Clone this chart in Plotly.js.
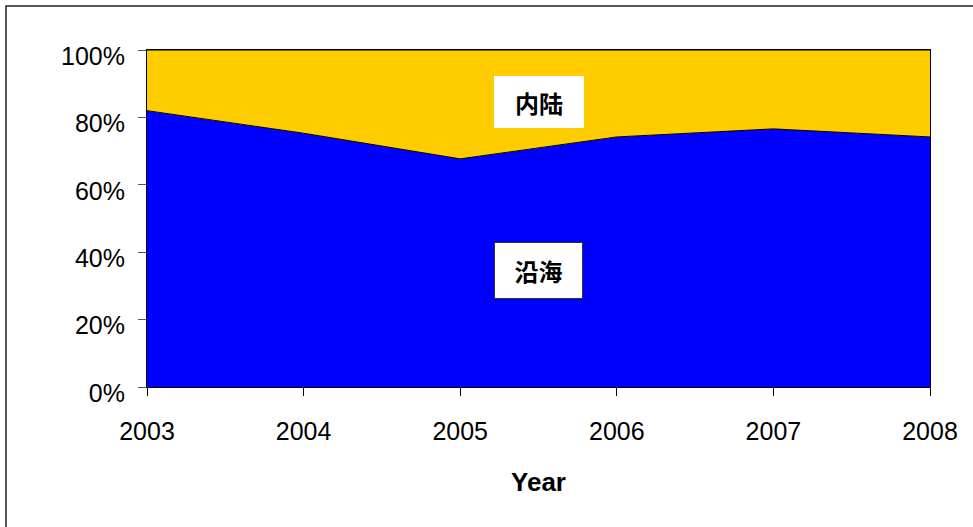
<!DOCTYPE html>
<html>
<head>
<meta charset="utf-8">
<script src="https://cdn.plot.ly/plotly-3.0.1.min.js"></script>
<style>
  html, body { margin: 0; padding: 0; background: #fff; }
  #chart { width: 973px; height: 527px; }
</style>
</head>
<body>
<div id="chart"></div>
<script>
const years = [2003, 2004, 2005, 2006, 2007, 2008];
const coastal = [82.0, 75.3, 67.7, 74.2, 76.6, 74.2];   // 沿海 (%)
const inland  = [18.0, 24.7, 32.3, 25.8, 23.4, 25.8];   // 内陆 (%)
const yTicks = [0, 20, 40, 60, 80, 100];
const seriesNames = ['沿海', '内陆'];

const font = 'Liberation Sans, Arial, sans-serif';
const cjk = 'Noto Sans CJK SC, sans-serif';

const traces = [
  { x: years, y: coastal, name: seriesNames[0], type: 'scatter', mode: 'lines',
    stackgroup: 'one', fillcolor: '#0000FF', line: { color: '#000', width: 1 } },
  { x: years, y: inland, name: seriesNames[1], type: 'scatter', mode: 'lines',
    stackgroup: 'one', fillcolor: '#FFCC00', line: { color: '#000', width: 1 } }
];

const layout = {
  width: 973, height: 527,
  margin: { l: 147, r: 43, t: 50, b: 140 },
  paper_bgcolor: '#fff', plot_bgcolor: '#fff',
  showlegend: false,
  font: { family: font, color: '#000' },
  xaxis: {
    range: [2003, 2008], tickvals: years, ticktext: years.map(String),
    showgrid: false, zeroline: false, showline: true, linecolor: '#000', linewidth: 1,
    mirror: true, ticks: 'outside', ticklen: 8, tickcolor: '#000',
    tickfont: { size: 25, family: font }, ticklabelstandoff: 14,
    title: { text: '<b>Year</b>', font: { size: 26, family: font }, standoff: 28 },
    fixedrange: true
  },
  yaxis: {
    range: [0, 100], tickvals: yTicks, ticktext: yTicks.map(v => v + '%'),
    showgrid: false, zeroline: false, showline: true, linecolor: '#000', linewidth: 1,
    mirror: true, ticks: 'outside', ticklen: 8, tickcolor: '#555',
    tickfont: { size: 25, family: font }, ticklabelstandoff: 8, ticklabelshift: 6,
    fixedrange: true
  },
  annotations: [
    { x: 2005.5, y: 84.6, xref: 'x', yref: 'y', text: '<b>' + seriesNames[1] + '</b>', showarrow: false,
      font: { size: 24, family: cjk, color: '#000' }, bgcolor: '#fff',
      width: 88, height: 50, borderwidth: 0 },
    { x: 2005.5, y: 34.7, xref: 'x', yref: 'y', text: '<b>' + seriesNames[0] + '</b>', showarrow: false,
      font: { size: 24, family: cjk, color: '#000' }, bgcolor: '#fff',
      bordercolor: '#333', borderwidth: 1, width: 85, height: 53 }
  ],
  shapes: [
    { type: 'rect', xref: 'paper', yref: 'paper',
      x0: (6 - 147) / 783, x1: 1.2, y0: -0.5, y1: (387 - 6) / 337,
      line: { color: '#222', width: 1.5 }, fillcolor: 'rgba(0,0,0,0)', layer: 'below' }
  ]
};

Plotly.newPlot('chart', traces, layout, { displayModeBar: false, staticPlot: true });
</script>
</body>
</html>
